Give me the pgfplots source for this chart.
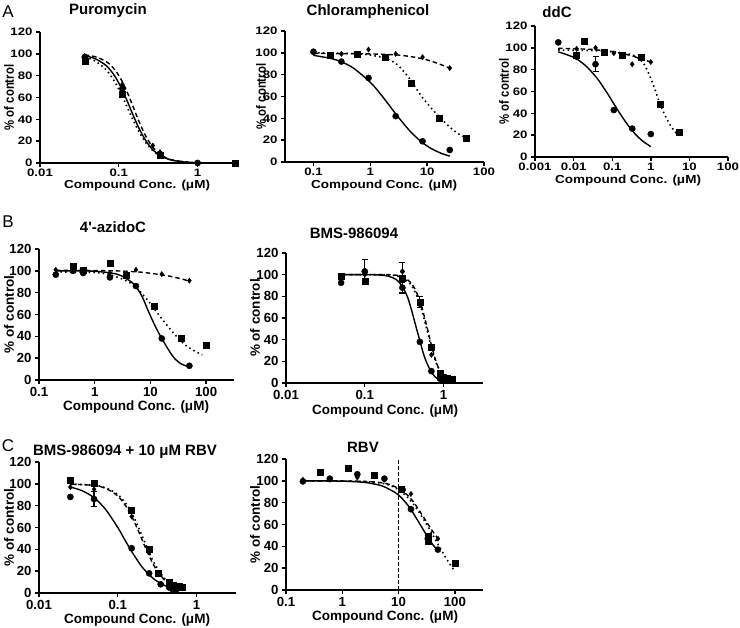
\documentclass[border=0pt]{standalone}
\usepackage{fontspec}
\setmainfont{Liberation Sans}
\usepackage{graphicx}
\usepackage{pgfplots}
\pgfplotsset{compat=1.18}

\newcommand{\fT}{\fontsize{13.2}{15}\selectfont\bfseries}
\newcommand{\fL}{\fontsize{13.5}{15}\selectfont\bfseries}
\newcommand{\fH}{\fontsize{15}{17}\selectfont\bfseries}
\newcommand{\fLet}{\fontsize{17}{19}\selectfont}
\newcommand{\sqz}[1]{\scalebox{1}[0.82]{#1}}

\pgfplotsset{
 pnlstyle/.style={scale only axis, ymin=0, ymax=120,
   ytick={0,20,40,60,80,100,120}, yticklabels={0,20,40,60,80,100,120},
   axis x line*=bottom, axis y line*=left,
   axis line style={line width=1.5pt,-},
   every tick/.append style={line width=1.4pt, black},
   major tick length=4pt, tick align=outside,
   xminorticks=false, yminorticks=false,
   tick label style={font=\fT}},
 rowA/.style={yticklabels={\sqz{0},\sqz{20},\sqz{40},\sqz{60},\sqz{80},\sqz{100},\sqz{120}},
   xticklabel style={yshift=1.5pt}},
 crvS/.style={black, line width=1.4pt, smooth, no markers},
 crvD/.style={black, line width=1.4pt, smooth, no markers, dash pattern=on 4.5pt off 3pt},
 crvP/.style={black, line width=1.6pt, smooth, no markers, dash pattern=on 1.5pt off 3.2pt},
 mkC/.style={only marks, mark=*, mark size=3.1pt, black},
 mkS/.style={only marks, mark=square*, mark size=3pt, black},
 mkD/.style={only marks, mark=diamond*, mark size=2.6pt, black},
 ebar/.style={only marks, mark=none, black, error bars/.cd, y dir=both, y explicit,
   error bar style={line width=1.2pt, solid},
   error mark options={rotate=90, mark size=3pt, line width=1.2pt}},
}

\begin{document}
\begin{tikzpicture}
\useasboundingbox (0,0) rectangle (740pt,-628pt);

% ---------------- A1 Puromycin
\begin{axis}[xmode=log, pnlstyle, rowA, anchor=south west, at={(40pt,-163pt)}, width=197pt, height=131pt,
  xmin=0.01, xmax=3.162, xtick={0.01,0.1,1}, xticklabels={\sqz{0.01},\sqz{0.1},\sqz{1}}]
\addplot[crvP] coordinates {(0.037,97.1) (0.05,93.5) (0.07,85) (0.09,73.7) (0.11,61.5) (0.13,50) (0.15,40.1) (0.18,28.7) (0.22,18.7) (0.27,11.4) (0.33,6.9) (0.45,3) (0.7,1) (1,0.3) (1.5,0.1) (3,0)};
\addplot[crvD] coordinates {(0.037,99) (0.05,97.4) (0.07,92.7) (0.09,85) (0.11,75) (0.13,63.7) (0.15,52.6) (0.18,38.3) (0.22,24.6) (0.27,14.5) (0.33,8.2) (0.45,3.2) (0.7,1) (1,0.3) (1.5,0.1) (3,0)};
\addplot[crvS] coordinates {(0.037,98.2) (0.05,95.6) (0.07,88.9) (0.09,79) (0.11,67.3) (0.13,55.5) (0.15,44.8) (0.18,32) (0.22,20.5) (0.27,12.2) (0.33,7.1) (0.45,2.9) (0.7,0.8) (1,0.3) (1.5,0.1) (3,0)};
\addplot[mkS] coordinates {(0.037,93) (0.111,63) (0.333,7) (3,0)};
\addplot[mkD] coordinates {(0.037,98) (0.111,72) (0.27,16) (0.333,10)};
\addplot[mkC] coordinates {(0.037,97) (0.111,68) (0.333,8) (1,0)};
\end{axis}

% ---------------- A2 Chloramphenicol
\begin{axis}[xmode=log, pnlstyle, rowA, anchor=south west, at={(285pt,-162pt)}, width=199pt, height=131pt,
  xmin=0.03162, xmax=100, xtick={0.1,1,10,100}, xticklabels={\sqz{0.1},\sqz{1},\sqz{10},\sqz{100}}]
\addplot[crvP] coordinates {(0.1,100) (0.3,99.7) (0.6,99) (1,98) (2,94.5) (3,89) (4,82) (5.3,74) (8,60) (12,49) (16,42) (25,32) (35,26) (48,22)};
\addplot[crvD] coordinates {(0.1,99.5) (0.3,99.3) (1,99) (3,98) (6,96) (10,93.5) (15,90.5) (25,86)};
\addplot[crvS] coordinates {(0.1,97.7) (0.2,94.9) (0.3,92) (0.5,86.2) (1,73) (1.5,62.5) (2.3,50) (3,42.1) (5,28.3) (8,18.3) (12,12.1) (18,7.8) (25,5.4)};
\addplot[mkS] coordinates {(0.2,98) (0.6,99) (1.8,96) (5.3,72) (16,40) (48,22)};
\addplot[mkD] coordinates {(0.1,100) (0.31,99) (0.93,103) (2.8,99) (8.3,96) (25,86)};
\addplot[mkC] coordinates {(0.1,101) (0.31,92) (0.93,77) (2.8,42) (8.3,19) (25,11)};
\end{axis}

% ---------------- A3 ddC
\begin{axis}[xmode=log, pnlstyle, rowA, anchor=south west, at={(535pt,-157pt)}, width=193pt, height=131pt,
  xmin=0.001, xmax=100, xtick={0.001,0.01,0.1,1,10,100}, xticklabels={\sqz{0.001},\sqz{0.01},\sqz{0.1},\sqz{1},\sqz{10},\sqz{100}}]
\addplot[crvP] coordinates {(0.004,98) (0.03,97.5) (0.1,96.5) (0.3,94) (0.5,90) (0.7,84) (1,72) (1.4,58) (1.8,47) (2.5,36) (3.5,27) (5,20)};
\addplot[crvD] coordinates {(0.004,99.5) (0.01,99.2) (0.03,98.5) (0.1,96.5) (0.3,93) (0.6,89.5) (1,87)};
\addplot[crvS] coordinates {(0.004,96.3) (0.01,91.3) (0.02,84) (0.04,72.4) (0.07,60) (0.1,51.2) (0.15,41.2) (0.25,29.6) (0.4,20.8) (0.6,14.9) (1,9.5)};
\addplot[ebar] coordinates {(0.037,85) +- (0,7)};
\addplot[mkS] coordinates {(0.012,93) (0.019,106) (0.061,96) (0.185,93) (0.575,91) (1.74,48) (5.3,23)};
\addplot[mkD] coordinates {(0.012,99) (0.037,100) (0.11,95) (0.33,85) (1,87)};
\addplot[mkC] coordinates {(0.004,105) (0.012,92) (0.037,85) (0.11,43) (0.33,26) (1,21)};
\end{axis}

% ---------------- B1 4'-azidoC
\begin{axis}[xmode=log, pnlstyle, anchor=south west, at={(39pt,-380pt)}, width=195pt, height=131pt,
  xmin=0.1, xmax=316.2, xtick={0.1,1,10,100}, xticklabels={0.1,1,10,100}]
\addplot[crvP] coordinates {(0.2,99) (1,98.5) (2,96) (4,90) (6,83) (10,70) (15,58) (25,44) (40,33) (60,27) (85,23)};
\addplot[crvD] coordinates {(0.2,100.5) (1,100.3) (3,99.8) (6,99) (10,97.8) (20,95.5) (35,92.8) (50,90.5)};
\addplot[crvS] coordinates {(0.2,100) (0.5,100) (1,99.6) (2,98) (3,95.5) (5,88) (7,77) (9,64) (12,50) (16,38) (25,22) (35,15) (50,12)};
\addplot[mkS] coordinates {(0.41,104) (0.62,100.5) (1.87,107) (3.7,96) (11.5,68) (35,38.5) (100,32)};
\addplot[mkD] coordinates {(0.2,101) (0.62,100) (1.87,98) (5.5,101) (16,97) (50,91)};
\addplot[mkC] coordinates {(0.2,96.5) (0.41,100) (0.62,98) (1.87,94) (5.5,86) (16,38) (50,13)};
\end{axis}

% ---------------- B2 BMS-986094
\begin{axis}[xmode=log, pnlstyle, anchor=south west, at={(286pt,-383pt)}, width=197pt, height=130pt,
  xmin=0.01, xmax=3.162, xtick={0.01,0.1,1}, xticklabels={0.01,0.1,1}]
\addplot[crvP] coordinates {(0.05,100) (0.2,99.7) (0.3,97) (0.4,89) (0.5,73) (0.6,52) (0.7,33) (0.8,19) (0.9,11) (1,6) (1.2,2) (1.4,0.8)};
\addplot[crvD] coordinates {(0.05,100) (0.2,100) (0.3,98) (0.4,91) (0.5,76) (0.6,55) (0.7,35) (0.8,20) (0.9,11) (1,6) (1.2,2) (1.4,0.8)};
\addplot[crvS] coordinates {(0.05,100) (0.1,100) (0.15,99.7) (0.2,98.5) (0.25,95.5) (0.3,89) (0.35,79) (0.4,65) (0.45,51) (0.5,39) (0.55,28) (0.6,20) (0.7,10) (0.8,5) (0.9,2.8) (1,1.6) (1.2,0.5)};
\addplot[ebar] coordinates {(0.1,103) +- (0,11) (0.3,103) +- (0,8) (0.3,88) +- (0,5) (0.5,75) +- (0,5)};
\addplot[mkS] coordinates {(0.05,98.6) (0.1,94) (0.3,96.5) (0.5,75) (0.7,33) (0.9,9) (1.0,5) (1.1,4.5) (1.27,3.5)};
\addplot[mkD] coordinates {(0.05,96) (0.1,100) (0.3,103) (0.5,72) (0.7,26) (0.9,6) (1.1,3)};
\addplot[mkC] coordinates {(0.05,92.5) (0.1,103) (0.3,88) (0.5,38) (0.7,11) (0.9,4) (1.0,2)};
\end{axis}

% ---------------- C1 BMS-986094 + 10 uM RBV
\begin{axis}[xmode=log, pnlstyle, anchor=south west, at={(39pt,-593pt)}, width=197pt, height=131pt,
  xmin=0.01, xmax=3.162, xtick={0.01,0.1,1}, xticklabels={0.01,0.1,1}]
\addplot[crvP] coordinates {(0.025,99.8) (0.05,98.7) (0.07,96.4) (0.1,90.3) (0.13,80.8) (0.15,73.3) (0.18,61.4) (0.21,50) (0.25,37.2) (0.3,25.5) (0.4,12.6) (0.5,6.9) (0.65,3.3)};
\addplot[crvD] coordinates {(0.025,99.8) (0.05,98.5) (0.07,95.9) (0.1,88.9) (0.13,78.4) (0.15,70.3) (0.18,57.8) (0.2,50) (0.25,33.9) (0.3,22.9) (0.4,11.1) (0.5,6) (0.65,2.8)};
\addplot[crvS] coordinates {(0.025,97) (0.035,93.8) (0.05,87.3) (0.07,76.6) (0.1,60) (0.12,50) (0.15,38) (0.2,24.5) (0.25,16.7) (0.3,11.8) (0.4,6.6) (0.5,4.2) (0.65,2.4)};
\addplot[ebar] coordinates {(0.05,86) +- (0,7)};
\addplot[mkS] coordinates {(0.025,103.5) (0.05,100.5) (0.15,76) (0.25,40) (0.33,18) (0.45,10) (0.5,7) (0.55,6) (0.6,6) (0.65,5)};
\addplot[mkD] coordinates {(0.025,97) (0.05,95) (0.15,70) (0.25,37) (0.45,6) (0.5,4) (0.55,3)};
\addplot[mkC] coordinates {(0.025,88) (0.05,86) (0.15,41) (0.25,18) (0.35,8) (0.45,5) (0.5,3) (0.55,2.5)};
\end{axis}

% ---------------- C2 RBV
\begin{axis}[xmode=log, pnlstyle, anchor=south west, at={(286pt,-590pt)}, width=197pt, height=131pt,
  xmin=0.1, xmax=316.2, xtick={0.1,1,10,100}, xticklabels={0.1,1,10,100}]
\addplot[black, line width=1.1pt, dash pattern=on 3.5pt off 2.5pt] coordinates {(10,0) (10,120)};
\addplot[crvP] coordinates {(0.2,100) (1,99.8) (3,99) (6,97) (10,92) (15,84) (20,76) (30,62) (50,42) (70,29) (100,17)};
\addplot[crvD] coordinates {(0.2,100) (1,99.9) (3,99.3) (6,97.5) (10,93) (15,86) (20,78) (30,64) (40,54) (50,47)};
\addplot[crvS] coordinates {(0.2,100) (0.5,99.9) (1,99.7) (2,99) (3,98) (5,95.5) (7,92) (10,87) (15,77) (20,67) (30,52) (40,42) (50,36)};
\addplot[mkS] coordinates {(0.4,107.8) (1.25,111.5) (3.7,105.5) (11.3,92.5) (34,49) (34,45) (100,24.5)};
\addplot[mkD] coordinates {(0.2,101) (0.6,101) (1.85,103) (5.6,101) (16.6,88) (50,47)};
\addplot[mkC] coordinates {(0.2,99.5) (0.6,102) (1.85,106) (5.6,102) (11.8,92) (16.6,74) (33,47) (50,37)};
\end{axis}

% ---------------- titles, labels
\node at (108pt,-11pt) {\fH Puromycin};
\node at (368pt,-12pt) {\fH Chloramphenicol};
\node at (557pt,-12pt) {\fH ddC};
\node at (113pt,-227pt) {\fH 4\textquotesingle-azidoC};
\node at (354pt,-233pt) {\fH BMS-986094};
\node at (125pt,-452pt) {\fH BMS-986094 + 10 μM RBV};
\node at (363pt,-447pt) {\fH RBV};

\node at (137pt,-186pt) {\fL\scalebox{1}[0.86]{Compound Conc. (μM)}};
\node at (384pt,-186pt) {\fL\scalebox{1}[0.86]{Compound Conc. (μM)}};
\node at (628pt,-181pt) {\fL\scalebox{1}[0.86]{Compound Conc. (μM)}};
\node at (136pt,-407pt) {\fL Compound Conc. (μM)};
\node at (385pt,-411pt) {\fL Compound Conc. (μM)};
\node at (137pt,-620pt) {\fL Compound Conc. (μM)};
\node at (385pt,-617pt) {\fL Compound Conc. (μM)};

\node[rotate=90] at (9pt,-97.5pt) {\fL\scalebox{0.84}[1]{\% of control}};
\node[rotate=90] at (261pt,-96.5pt) {\fL\scalebox{0.84}[1]{\% of control}};
\node[rotate=90] at (504pt,-91.5pt) {\fL\scalebox{0.84}[1]{\% of control}};
\node[rotate=90] at (9pt,-314.5pt) {\fL \% of control};
\node[rotate=90] at (255pt,-318pt) {\fL \% of control};
\node[rotate=90] at (9pt,-527.5pt) {\fL \% of control};
\node[rotate=90] at (255pt,-524.5pt) {\fL \% of control};

\node at (8pt,-12pt) {\fLet A};
\node at (8pt,-222pt) {\fLet B};
\node at (8pt,-446pt) {\fLet C};
\end{tikzpicture}
\end{document}
